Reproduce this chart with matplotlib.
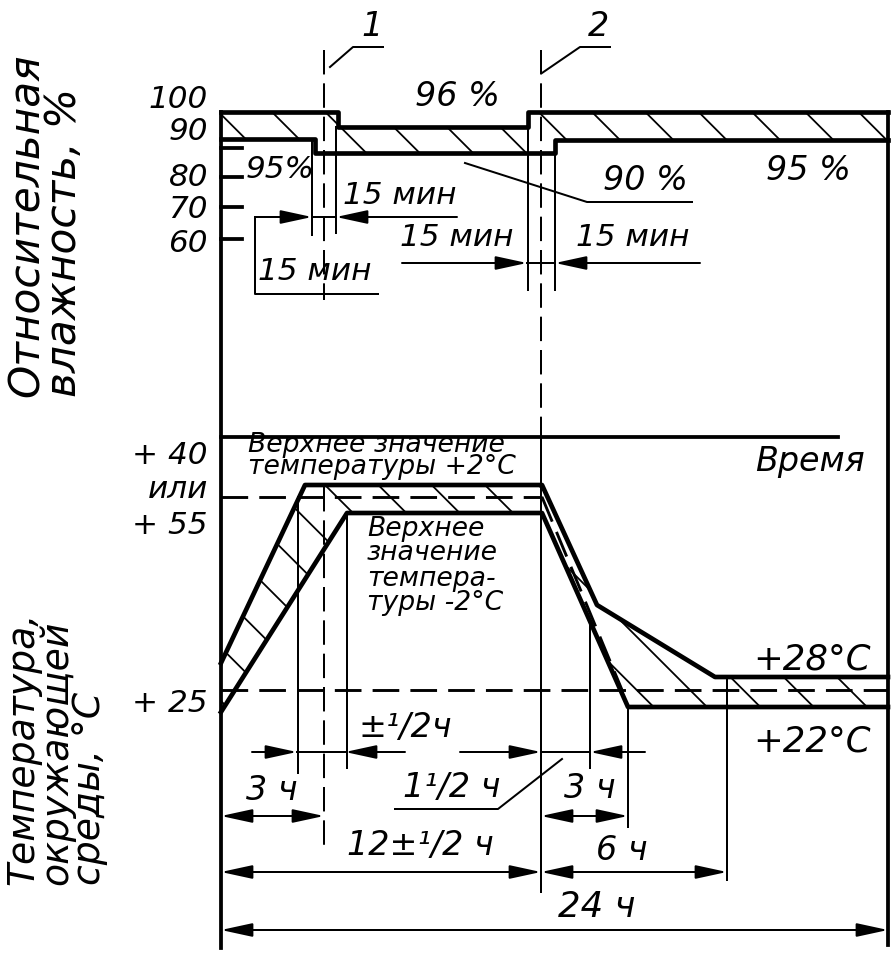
import numpy as np
import matplotlib
matplotlib.use("Agg")
import matplotlib.pyplot as plt

# drawing units = pixels of the original sheet (schematic, not to scale)
W, H = 893, 954
DPI = 160

# relative humidity band (upper / lower boundary)
hum_upper_x = [221, 338, 338, 528, 528, 888]
hum_upper_y = [112, 112, 127, 127, 112, 112]
hum_lower_x = [221, 315, 315, 555, 555, 888]
hum_lower_y = [139, 139, 153, 153, 140, 140]
hum_tick_y = [112, 148, 177, 207, 239]
hum_tick_labels = ["100", "90", "80", "70", "60"]
hum_label_y = [99, 131, 177, 209, 243]

# temperature band (upper / lower boundary) and nominal dashed profile
temp_upper_x = [221, 305, 542, 597, 715, 888]
temp_upper_y = [663, 485, 485, 605, 677, 677]
temp_lower_x = [221, 347, 542, 628, 888]
temp_lower_y = [712, 513, 513, 707, 707]
temp_nom_hi = ([221, 542], [497, 497])
temp_nom_fall = ([542, 622], [497, 690])
temp_nom_lo = ([221, 888], [690, 690])
temp_tick_labels = ["+ 40", "или", "+ 55", "+ 25"]
temp_label_y = [455, 490, 525, 703]

# dimension lines: (x0, x1, y) double headed
dims_both = [(221, 324, 816), (541, 628, 816), (221, 541, 872),
             (541, 727, 872), (221, 888, 930)]
# single arrows pointing inward: (tail x, head x, y)
dims_in = [(252, 297, 752), (405, 345, 752), (460, 541, 752), (645, 590, 752),
           (255, 312, 217), (457, 336, 217), (402, 527, 263), (700, 555, 263)]
dims_plain = [(297, 345, 752), (541, 590, 752), (312, 336, 217), (527, 555, 263)]

# extension lines: (x, y0, y1)
ext_lines = [(298, 497, 773), (347, 513, 768), (590, 620, 768), (628, 707, 827),
             (727, 677, 880), (541, 437, 892), (312, 139, 235), (336, 127, 233),
             (528, 112, 290), (555, 140, 290)]
dash_lines = [(324, 50, 300), (324, 487, 847), (541, 50, 437)]

leaders = [
    [(330, 67), (353, 47), (383, 47)],
    [(542, 73), (580, 47), (610, 47)],
    [(465, 163), (587, 202), (692, 202)],
    [(562, 759), (498, 809), (395, 809)],
    [(255, 217), (255, 294), (378, 294)],
]

plt.rcParams["hatch.linewidth"] = 0.8
plt.rcParams["lines.scale_dashes"] = False
FONT = dict(family="DejaVu Sans", style="italic", color="black")

fig = plt.figure(figsize=(W / DPI, H / DPI), dpi=DPI)
ax = fig.add_axes([0, 0, 1, 1])
ax.set_xlim(0, W)
ax.set_ylim(H, 0)
ax.axis("off")

THICK, MID, THIN = 2.1, 1.7, 0.9

# frame / axes
ax.plot([221, 221], [112, 948], color="k", lw=MID)
ax.plot([888, 888], [112, 945], color="k", lw=MID)
ax.plot([221, 838], [437, 437], color="k", lw=MID)
for y in hum_tick_y[1:]:
    ax.plot([221, 242], [y, y], color="k", lw=MID)

# humidity band
ax.fill(hum_upper_x + hum_lower_x[::-1], hum_upper_y + hum_lower_y[::-1],
        facecolor="none", edgecolor="k", lw=0, hatch="\\")
ax.plot(hum_upper_x, hum_upper_y, color="k", lw=THICK, solid_joinstyle="round")
ax.plot(hum_lower_x, hum_lower_y, color="k", lw=THICK, solid_joinstyle="round")

# temperature band
ax.fill(temp_upper_x + temp_lower_x[::-1], temp_upper_y + temp_lower_y[::-1],
        facecolor="none", edgecolor="k", lw=0, hatch="\\")
ax.plot(temp_upper_x, temp_upper_y, color="k", lw=THICK, solid_joinstyle="round")
ax.plot(temp_lower_x, temp_lower_y, color="k", lw=THICK, solid_joinstyle="round")
for xs, ys in (temp_nom_hi, temp_nom_fall, temp_nom_lo):
    ax.plot(xs, ys, color="k", lw=1.3, dashes=(12, 5))

# extension and centre lines
for x, y0, y1 in ext_lines:
    ax.plot([x, x], [y0, y1], color="k", lw=THIN)
for x, y0, y1 in dash_lines:
    ax.plot([x, x], [y0, y1], color="k", lw=THIN, dashes=(11, 4))
for pts in leaders:
    xs, ys = zip(*pts)
    ax.plot(xs, ys, color="k", lw=THIN)

# dimension arrows
AP = dict(color="k", lw=THIN, shrinkA=0, shrinkB=0, mutation_scale=20)
for x0, x1, y in dims_both:
    ax.annotate("", xy=(x1, y), xytext=(x0, y),
                arrowprops=dict(arrowstyle="<|-|>,head_length=0.6,head_width=0.13", **AP))
for x0, x1, y in dims_in:
    ax.annotate("", xy=(x1, y), xytext=(x0, y),
                arrowprops=dict(arrowstyle="-|>,head_length=0.6,head_width=0.13", **AP))
for x0, x1, y in dims_plain:
    ax.plot([x0, x1], [y, y], color="k", lw=THIN)

# tick labels
for lab, y in zip(hum_tick_labels, hum_label_y):
    ax.text(208, y, lab, ha="right", va="center", fontsize=14, **FONT)
for lab, y in zip(temp_tick_labels, temp_label_y):
    ax.text(208, y, lab, ha="right", va="center", fontsize=14, **FONT)

# annotations
texts = [
    ("1", 372, 27, 15), ("2", 598, 27, 15),
    ("96 %", 457, 97, 15), ("95%", 280, 170, 14), ("90 %", 645, 180, 15),
    ("95 %", 808, 170, 15),
    ("15 мин", 400, 195, 14), ("15 мин", 315, 272, 14),
    ("15 мин", 457, 238, 14), ("15 мин", 633, 238, 14),
    ("Время", 810, 462, 15), ("+28°C", 812, 660, 16), ("+22°C", 812, 742, 16),
    ("±¹/2ч", 405, 727, 15), ("1¹/2 ч", 452, 787, 15), ("3 ч", 272, 790, 15),
    ("3 ч", 590, 788, 15), ("12±¹/2 ч", 420, 845, 15), ("6 ч", 622, 850, 15),
    ("24 ч", 597, 907, 16),
]
for s, x, y, fs in texts:
    ax.text(x, y, s, ha="center", va="center", fontsize=fs, **FONT)

ax.text(248, 456, "Верхнее значение\nтемпературы +2°C", ha="left", va="center",
        fontsize=12, linespacing=0.82, **FONT)
ax.text(367, 566, "Верхнее\nзначение\nтемпера-\nтуры -2°C", ha="left",
        va="center", fontsize=12, linespacing=0.95, **FONT)

ax.text(45, 225, "Относительная\nвлажность, %", rotation=90, ha="center",
        va="center", multialignment="left", fontsize=19, linespacing=0.85, **FONT)
ax.text(57, 748, "Температура,\nокружающей\nсреды, °С", rotation=90,
        ha="center", va="center", multialignment="left", fontsize=17,
        linespacing=0.9, **FONT)

fig.savefig("out.png", dpi=DPI)
